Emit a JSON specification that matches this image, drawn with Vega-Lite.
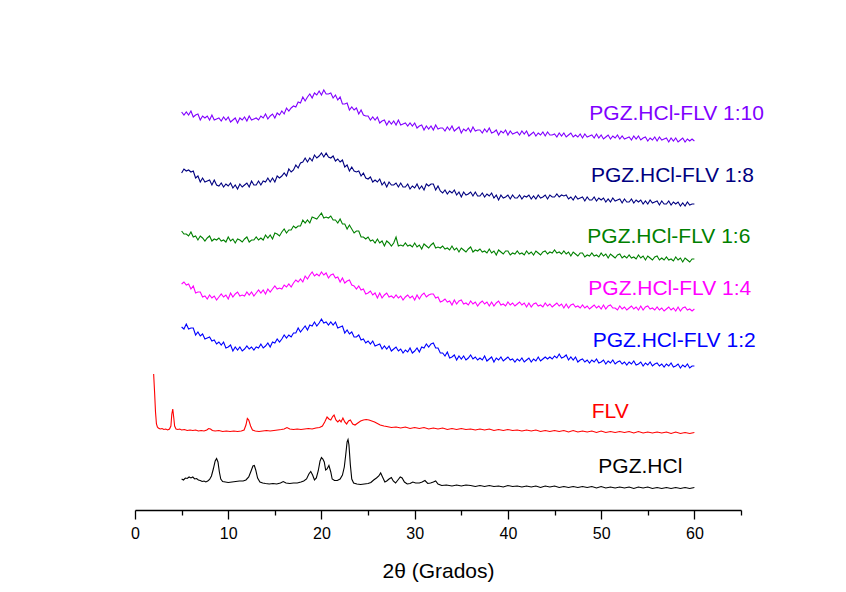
{
"$schema":"https://vega.github.io/schema/vega-lite/v6.json",
"width":606,"height":430,
"autosize":{"type":"none"},
"padding":{"left":135,"top":80,"right":105,"bottom":82},
"background":"white",
"config":{"view":{"stroke":null}},
"datasets":{
"amorph":[
{"x":5,"r10":405,"r8":344,"r6":286,"r4":233,"r2":190},
{"x":5.25,"r10":402,"r8":348,"r6":283,"r4":235,"r2":188},
{"x":5.5,"r10":405,"r8":346,"r6":283,"r4":232,"r2":193},
{"x":5.75,"r10":402,"r8":347,"r6":281,"r4":233,"r2":188},
{"x":6,"r10":406,"r8":345,"r6":285,"r4":228,"r2":189},
{"x":6.25,"r10":400,"r8":346,"r6":280,"r4":231,"r2":189},
{"x":6.5,"r10":402,"r8":339,"r6":281,"r4":224,"r2":182},
{"x":6.75,"r10":403,"r8":341,"r6":277,"r4":225,"r2":185},
{"x":7,"r10":397,"r8":335,"r6":281,"r4":225,"r2":181},
{"x":7.25,"r10":401,"r8":339,"r6":279,"r4":220,"r2":183},
{"x":7.5,"r10":399,"r8":335,"r6":276,"r4":221,"r2":178},
{"x":7.75,"r10":401,"r8":336,"r6":279,"r4":218,"r2":179},
{"x":8,"r10":397,"r8":337,"r6":281,"r4":222,"r2":180},
{"x":8.25,"r10":402,"r8":332,"r6":276,"r4":219,"r2":176},
{"x":8.5,"r10":397,"r8":337,"r6":278,"r4":221,"r2":177},
{"x":8.75,"r10":398,"r8":332,"r6":277,"r4":217,"r2":173},
{"x":9,"r10":399,"r8":331,"r6":279,"r4":220,"r2":175},
{"x":9.25,"r10":396,"r8":334,"r6":276,"r4":223,"r2":172},
{"x":9.5,"r10":400,"r8":330,"r6":277,"r4":220,"r2":175},
{"x":9.75,"r10":397,"r8":333,"r6":275,"r4":222,"r2":169},
{"x":10,"r10":400,"r8":331,"r6":280,"r4":218,"r2":170},
{"x":10.25,"r10":395,"r8":334,"r6":276,"r4":224,"r2":172},
{"x":10.5,"r10":397,"r8":329,"r6":278,"r4":220,"r2":166},
{"x":10.75,"r10":399,"r8":332,"r6":274,"r4":223,"r2":170},
{"x":11,"r10":394,"r8":328,"r6":278,"r4":225,"r2":167},
{"x":11.25,"r10":399,"r8":333,"r6":277,"r4":221,"r2":170},
{"x":11.5,"r10":397,"r8":330,"r6":275,"r4":222,"r2":166},
{"x":11.75,"r10":400,"r8":332,"r6":278,"r4":221,"r2":168},
{"x":12,"r10":396,"r8":334,"r6":280,"r4":225,"r2":171},
{"x":12.25,"r10":401,"r8":330,"r6":275,"r4":222,"r2":168},
{"x":12.5,"r10":397,"r8":336,"r6":277,"r4":225,"r2":170},
{"x":12.75,"r10":398,"r8":332,"r6":277,"r4":221,"r2":167},
{"x":13,"r10":399,"r8":332,"r6":280,"r4":224,"r2":170},
{"x":13.25,"r10":397,"r8":336,"r6":277,"r4":227,"r2":169},
{"x":13.5,"r10":401,"r8":332,"r6":279,"r4":224,"r2":173},
{"x":13.75,"r10":399,"r8":336,"r6":277,"r4":227,"r2":169},
{"x":14,"r10":403,"r8":335,"r6":282,"r4":223,"r2":171},
{"x":14.25,"r10":398,"r8":339,"r6":279,"r4":228,"r2":174},
{"x":14.5,"r10":401,"r8":335,"r6":282,"r4":225,"r2":170},
{"x":14.75,"r10":403,"r8":339,"r6":278,"r4":228,"r2":175},
{"x":15,"r10":399,"r8":335,"r6":284,"r4":231,"r2":174},
{"x":15.25,"r10":404,"r8":341,"r6":283,"r4":228,"r2":178},
{"x":15.5,"r10":402,"r8":339,"r6":281,"r4":229,"r2":175},
{"x":15.75,"r10":406,"r8":341,"r6":285,"r4":228,"r2":178},
{"x":16,"r10":403,"r8":344,"r6":288,"r4":232,"r2":182},
{"x":16.25,"r10":409,"r8":341,"r6":284,"r4":230,"r2":179},
{"x":16.5,"r10":406,"r8":348,"r6":287,"r4":233,"r2":182},
{"x":16.75,"r10":409,"r8":345,"r6":287,"r4":230,"r2":180},
{"x":17,"r10":411,"r8":347,"r6":291,"r4":234,"r2":184},
{"x":17.25,"r10":410,"r8":352,"r6":289,"r4":237,"r2":184},
{"x":17.5,"r10":415,"r8":349,"r6":291,"r4":235,"r2":189},
{"x":17.75,"r10":414,"r8":354,"r6":291,"r4":238,"r2":185},
{"x":18,"r10":420,"r8":355,"r6":297,"r4":235,"r2":188},
{"x":18.25,"r10":416,"r8":359,"r6":294,"r4":241,"r2":191},
{"x":18.5,"r10":420,"r8":355,"r6":297,"r4":238,"r2":187},
{"x":18.75,"r10":423,"r8":359,"r6":294,"r4":242,"r2":192},
{"x":19,"r10":419,"r8":356,"r6":300,"r4":245,"r2":191},
{"x":19.25,"r10":424,"r8":362,"r6":299,"r4":241,"r2":195},
{"x":19.5,"r10":422,"r8":359,"r6":298,"r4":243,"r2":191},
{"x":19.75,"r10":426,"r8":361,"r6":301,"r4":241,"r2":194},
{"x":20,"r10":422,"r8":364,"r6":304,"r4":245,"r2":198},
{"x":20.25,"r10":427,"r8":360,"r6":299,"r4":242,"r2":194},
{"x":20.5,"r10":423,"r8":364,"r6":300,"r4":244,"r2":195},
{"x":20.75,"r10":423,"r8":360,"r6":299,"r4":239,"r2":192},
{"x":21,"r10":424,"r8":359,"r6":301,"r4":242,"r2":195},
{"x":21.25,"r10":419,"r8":361,"r6":297,"r4":243,"r2":192},
{"x":21.5,"r10":422,"r8":356,"r6":297,"r4":239,"r2":195},
{"x":21.75,"r10":417,"r8":358,"r6":294,"r4":240,"r2":189},
{"x":22,"r10":420,"r8":355,"r6":298,"r4":235,"r2":190},
{"x":22.25,"r10":413,"r8":357,"r6":293,"r4":239,"r2":191},
{"x":22.5,"r10":413,"r8":350,"r6":293,"r4":234,"r2":184},
{"x":22.75,"r10":414,"r8":352,"r6":288,"r4":236,"r2":187},
{"x":23,"r10":407,"r8":346,"r6":292,"r4":237,"r2":183},
{"x":23.25,"r10":410,"r8":350,"r6":288,"r4":232,"r2":185},
{"x":23.5,"r10":407,"r8":346,"r6":284,"r4":231,"r2":180},
{"x":23.75,"r10":409,"r8":345,"r6":286,"r4":228,"r2":180},
{"x":24,"r10":403,"r8":346,"r6":286,"r4":231,"r2":182},
{"x":24.25,"r10":407,"r8":341,"r6":280,"r4":227,"r2":177},
{"x":24.5,"r10":402,"r8":344,"r6":280,"r4":228,"r2":178},
{"x":24.75,"r10":401,"r8":339,"r6":278,"r4":223,"r2":174},
{"x":25,"r10":401,"r8":338,"r6":280,"r4":224,"r2":176},
{"x":25.25,"r10":397,"r8":340,"r6":276,"r4":226,"r2":173},
{"x":25.5,"r10":400,"r8":335,"r6":277,"r4":222,"r2":176},
{"x":25.75,"r10":397,"r8":337,"r6":274,"r4":224,"r2":171},
{"x":26,"r10":400,"r8":335,"r6":278,"r4":219,"r2":172},
{"x":26.25,"r10":394,"r8":338,"r6":274,"r4":224,"r2":173},
{"x":26.5,"r10":396,"r8":332,"r6":276,"r4":219,"r2":168},
{"x":26.75,"r10":397,"r8":335,"r6":271,"r4":222,"r2":171},
{"x":27,"r10":392,"r8":330,"r6":276,"r4":224,"r2":168},
{"x":27.25,"r10":396,"r8":335,"r6":274,"r4":220,"r2":171},
{"x":27.5,"r10":393,"r8":332,"r6":271,"r4":221,"r2":166},
{"x":27.75,"r10":396,"r8":332,"r6":274,"r4":219,"r2":168},
{"x":28,"r10":392,"r8":334,"r6":280,"r4":222,"r2":170},
{"x":28.25,"r10":397,"r8":330,"r6":271,"r4":219,"r2":166},
{"x":28.5,"r10":392,"r8":334,"r6":272,"r4":221,"r2":168},
{"x":28.75,"r10":393,"r8":330,"r6":271,"r4":217,"r2":164},
{"x":29,"r10":394,"r8":330,"r6":274,"r4":220,"r2":167},
{"x":29.25,"r10":391,"r8":333,"r6":271,"r4":222,"r2":165},
{"x":29.5,"r10":394,"r8":328,"r6":272,"r4":219,"r2":169},
{"x":29.75,"r10":391,"r8":331,"r6":270,"r4":221,"r2":164},
{"x":30,"r10":394,"r8":329,"r6":274,"r4":217,"r2":166},
{"x":30.25,"r10":389,"r8":333,"r6":270,"r4":222,"r2":169},
{"x":30.5,"r10":391,"r8":328,"r6":272,"r4":218,"r2":165},
{"x":30.75,"r10":392,"r8":331,"r6":268,"r4":222,"r2":170},
{"x":31,"r10":387,"r8":327,"r6":273,"r4":224,"r2":169},
{"x":31.25,"r10":391,"r8":333,"r6":271,"r4":220,"r2":173},
{"x":31.5,"r10":388,"r8":331,"r6":269,"r4":222,"r2":170},
{"x":31.75,"r10":391,"r8":333,"r6":272,"r4":223,"r2":173},
{"x":32,"r10":387,"r8":333,"r6":274,"r4":223,"r2":174},
{"x":32.25,"r10":392,"r8":327,"r6":269,"r4":219,"r2":169},
{"x":32.5,"r10":388,"r8":331,"r6":270,"r4":220,"r2":169},
{"x":32.75,"r10":389,"r8":326,"r6":269,"r4":215,"r2":164},
{"x":33,"r10":389,"r8":324,"r6":271,"r4":216,"r2":164},
{"x":33.25,"r10":386,"r8":327,"r6":268,"r4":218,"r2":161},
{"x":33.5,"r10":390,"r8":323,"r6":269,"r4":215,"r2":165},
{"x":33.75,"r10":387,"r8":326,"r6":267,"r4":216,"r2":159},
{"x":34,"r10":391,"r8":324,"r6":271,"r4":212,"r2":160},
{"x":34.25,"r10":386,"r8":327,"r6":267,"r4":217,"r2":162},
{"x":34.5,"r10":388,"r8":322,"r6":269,"r4":213,"r2":157},
{"x":34.75,"r10":390,"r8":325,"r6":265,"r4":216,"r2":161},
{"x":35,"r10":384,"r8":320,"r6":269,"r4":217,"r2":158},
{"x":35.25,"r10":388,"r8":325,"r6":267,"r4":213,"r2":161},
{"x":35.5,"r10":386,"r8":322,"r6":265,"r4":214,"r2":157},
{"x":35.75,"r10":389,"r8":323,"r6":268,"r4":212,"r2":159},
{"x":36,"r10":385,"r8":325,"r6":270,"r4":216,"r2":162},
{"x":36.25,"r10":390,"r8":321,"r6":265,"r4":213,"r2":158},
{"x":36.5,"r10":386,"r8":325,"r6":267,"r4":215,"r2":160},
{"x":36.75,"r10":387,"r8":321,"r6":266,"r4":211,"r2":157},
{"x":37,"r10":387,"r8":321,"r6":268,"r4":214,"r2":159},
{"x":37.25,"r10":384,"r8":324,"r6":265,"r4":216,"r2":157},
{"x":37.5,"r10":388,"r8":320,"r6":266,"r4":213,"r2":161},
{"x":37.75,"r10":385,"r8":323,"r6":264,"r4":215,"r2":156},
{"x":38,"r10":389,"r8":321,"r6":268,"r4":211,"r2":158},
{"x":38.25,"r10":384,"r8":324,"r6":264,"r4":215,"r2":160},
{"x":38.5,"r10":385,"r8":319,"r6":266,"r4":211,"r2":155},
{"x":38.75,"r10":387,"r8":322,"r6":262,"r4":214,"r2":159},
{"x":39,"r10":382,"r8":317,"r6":267,"r4":216,"r2":157},
{"x":39.25,"r10":386,"r8":322,"r6":265,"r4":212,"r2":160},
{"x":39.5,"r10":384,"r8":319,"r6":263,"r4":213,"r2":156},
{"x":39.75,"r10":387,"r8":320,"r6":266,"r4":211,"r2":158},
{"x":40,"r10":382,"r8":322,"r6":266,"r4":215,"r2":160},
{"x":40.25,"r10":386,"r8":318,"r6":262,"r4":212,"r2":157},
{"x":40.5,"r10":383,"r8":322,"r6":264,"r4":214,"r2":158},
{"x":40.75,"r10":384,"r8":319,"r6":263,"r4":211,"r2":155},
{"x":41,"r10":385,"r8":319,"r6":266,"r4":213,"r2":158},
{"x":41.25,"r10":382,"r8":322,"r6":263,"r4":215,"r2":156},
{"x":41.5,"r10":386,"r8":318,"r6":264,"r4":212,"r2":159},
{"x":41.75,"r10":383,"r8":321,"r6":262,"r4":214,"r2":155},
{"x":42,"r10":386,"r8":320,"r6":266,"r4":210,"r2":157},
{"x":42.25,"r10":381,"r8":322,"r6":263,"r4":214,"r2":159},
{"x":42.5,"r10":383,"r8":318,"r6":265,"r4":210,"r2":155},
{"x":42.75,"r10":385,"r8":321,"r6":262,"r4":213,"r2":158},
{"x":43,"r10":381,"r8":318,"r6":266,"r4":214,"r2":156},
{"x":43.25,"r10":384,"r8":322,"r6":264,"r4":211,"r2":160},
{"x":43.5,"r10":382,"r8":319,"r6":262,"r4":212,"r2":156},
{"x":43.75,"r10":385,"r8":320,"r6":265,"r4":210,"r2":158},
{"x":44,"r10":381,"r8":322,"r6":266,"r4":214,"r2":160},
{"x":44.25,"r10":385,"r8":318,"r6":263,"r4":211,"r2":158},
{"x":44.5,"r10":382,"r8":322,"r6":265,"r4":213,"r2":160},
{"x":44.75,"r10":382,"r8":320,"r6":264,"r4":210,"r2":158},
{"x":45,"r10":383,"r8":320,"r6":267,"r4":212,"r2":161},
{"x":45.25,"r10":380,"r8":323,"r6":264,"r4":214,"r2":159},
{"x":45.5,"r10":384,"r8":320,"r6":265,"r4":211,"r2":163},
{"x":45.75,"r10":381,"r8":322,"r6":263,"r4":213,"r2":159},
{"x":46,"r10":384,"r8":321,"r6":266,"r4":209,"r2":160},
{"x":46.25,"r10":380,"r8":322,"r6":263,"r4":213,"r2":162},
{"x":46.5,"r10":382,"r8":318,"r6":265,"r4":209,"r2":157},
{"x":46.75,"r10":384,"r8":320,"r6":261,"r4":212,"r2":160},
{"x":47,"r10":380,"r8":317,"r6":265,"r4":213,"r2":157},
{"x":47.25,"r10":382,"r8":321,"r6":263,"r4":210,"r2":160},
{"x":47.5,"r10":380,"r8":318,"r6":261,"r4":211,"r2":155},
{"x":47.75,"r10":383,"r8":319,"r6":264,"r4":209,"r2":157},
{"x":48,"r10":379,"r8":320,"r6":264,"r4":212,"r2":158},
{"x":48.25,"r10":383,"r8":316,"r6":260,"r4":209,"r2":155},
{"x":48.5,"r10":380,"r8":320,"r6":262,"r4":211,"r2":157},
{"x":48.75,"r10":381,"r8":317,"r6":261,"r4":208,"r2":154},
{"x":49,"r10":382,"r8":317,"r6":264,"r4":210,"r2":157},
{"x":49.25,"r10":379,"r8":320,"r6":261,"r4":212,"r2":155},
{"x":49.5,"r10":383,"r8":316,"r6":262,"r4":209,"r2":158},
{"x":49.75,"r10":379,"r8":319,"r6":260,"r4":211,"r2":154},
{"x":50,"r10":382,"r8":317,"r6":264,"r4":208,"r2":155},
{"x":50.25,"r10":378,"r8":319,"r6":261,"r4":212,"r2":157},
{"x":50.5,"r10":380,"r8":315,"r6":263,"r4":208,"r2":153},
{"x":50.75,"r10":382,"r8":318,"r6":259,"r4":211,"r2":156},
{"x":51,"r10":378,"r8":315,"r6":263,"r4":212,"r2":154},
{"x":51.25,"r10":381,"r8":319,"r6":261,"r4":209,"r2":157},
{"x":51.5,"r10":379,"r8":316,"r6":259,"r4":209,"r2":153},
{"x":51.75,"r10":382,"r8":317,"r6":262,"r4":207,"r2":155},
{"x":52,"r10":378,"r8":318,"r6":263,"r4":211,"r2":156},
{"x":52.25,"r10":381,"r8":314,"r6":259,"r4":208,"r2":153},
{"x":52.5,"r10":378,"r8":318,"r6":261,"r4":210,"r2":155},
{"x":52.75,"r10":379,"r8":315,"r6":259,"r4":207,"r2":152},
{"x":53,"r10":380,"r8":315,"r6":262,"r4":209,"r2":155},
{"x":53.25,"r10":377,"r8":318,"r6":259,"r4":211,"r2":153},
{"x":53.5,"r10":381,"r8":314,"r6":260,"r4":208,"r2":156},
{"x":53.75,"r10":378,"r8":317,"r6":258,"r4":210,"r2":152},
{"x":54,"r10":381,"r8":315,"r6":262,"r4":207,"r2":153},
{"x":54.25,"r10":377,"r8":317,"r6":259,"r4":211,"r2":155},
{"x":54.5,"r10":379,"r8":313,"r6":261,"r4":207,"r2":151},
{"x":54.75,"r10":380,"r8":316,"r6":257,"r4":210,"r2":154},
{"x":55,"r10":376,"r8":313,"r6":261,"r4":211,"r2":152},
{"x":55.25,"r10":379,"r8":317,"r6":259,"r4":208,"r2":155},
{"x":55.5,"r10":377,"r8":314,"r6":257,"r4":209,"r2":151},
{"x":55.75,"r10":380,"r8":315,"r6":260,"r4":207,"r2":153},
{"x":56,"r10":376,"r8":316,"r6":261,"r4":210,"r2":154},
{"x":56.25,"r10":380,"r8":312,"r6":257,"r4":207,"r2":151},
{"x":56.5,"r10":377,"r8":316,"r6":259,"r4":209,"r2":153},
{"x":56.75,"r10":378,"r8":313,"r6":257,"r4":206,"r2":150},
{"x":57,"r10":379,"r8":313,"r6":260,"r4":208,"r2":153},
{"x":57.25,"r10":375,"r8":316,"r6":257,"r4":210,"r2":151},
{"x":57.5,"r10":379,"r8":312,"r6":258,"r4":207,"r2":154},
{"x":57.75,"r10":376,"r8":315,"r6":256,"r4":209,"r2":150},
{"x":58,"r10":379,"r8":313,"r6":260,"r4":206,"r2":151},
{"x":58.25,"r10":375,"r8":315,"r6":257,"r4":210,"r2":153},
{"x":58.5,"r10":377,"r8":311,"r6":259,"r4":206,"r2":149},
{"x":58.75,"r10":379,"r8":314,"r6":255,"r4":209,"r2":152},
{"x":59,"r10":375,"r8":311,"r6":259,"r4":210,"r2":150},
{"x":59.25,"r10":378,"r8":315,"r6":257,"r4":207,"r2":153},
{"x":59.5,"r10":376,"r8":312,"r6":255,"r4":208,"r2":149},
{"x":59.75,"r10":378,"r8":313,"r6":258,"r4":206,"r2":151},
{"x":60,"r10":376,"r8":313,"r6":258,"r4":208,"r2":151}
],
"cryst":[
{"s":"flv","x":2.0,"y":143},{"s":"flv","x":2.1,"y":125},{"s":"flv","x":2.2,"y":105},{"s":"flv","x":2.3,"y":93},{"s":"flv","x":2.4,"y":90},{"s":"flv","x":2.5,"y":89},{"s":"flv","x":2.7,"y":88},{"s":"flv","x":2.9,"y":88.5},{"s":"flv","x":3.1,"y":87.5},{"s":"flv","x":3.3,"y":88},{"s":"flv","x":3.5,"y":87},{"s":"flv","x":3.7,"y":88},{"s":"flv","x":3.85,"y":91},{"s":"flv","x":3.95,"y":103},{"s":"flv","x":4.05,"y":108},{"s":"flv","x":4.15,"y":100},{"s":"flv","x":4.25,"y":91},{"s":"flv","x":4.4,"y":88},{"s":"flv","x":4.6,"y":87.5},{"s":"flv","x":4.8,"y":88},{"s":"flv","x":5.0,"y":87},{"s":"flv","x":5.3,"y":87.5},{"s":"flv","x":5.6,"y":86.5},{"s":"flv","x":5.9,"y":87},{"s":"flv","x":6.2,"y":86.5},{"s":"flv","x":6.5,"y":87},{"s":"flv","x":6.8,"y":86},{"s":"flv","x":7.1,"y":86.5},{"s":"flv","x":7.4,"y":86},{"s":"flv","x":7.7,"y":87},{"s":"flv","x":7.9,"y":88.5},{"s":"flv","x":8.1,"y":88},{"s":"flv","x":8.3,"y":86.5},{"s":"flv","x":8.6,"y":86},{"s":"flv","x":9.0,"y":86.5},{"s":"flv","x":9.4,"y":85.5},{"s":"flv","x":9.8,"y":86},{"s":"flv","x":10.2,"y":85.5},{"s":"flv","x":10.6,"y":86},{"s":"flv","x":11.0,"y":85.5},{"s":"flv","x":11.4,"y":86},{"s":"flv","x":11.7,"y":87},{"s":"flv","x":11.9,"y":92},{"s":"flv","x":12.05,"y":98.5},{"s":"flv","x":12.2,"y":97},{"s":"flv","x":12.4,"y":91},{"s":"flv","x":12.6,"y":87},{"s":"flv","x":12.9,"y":86},{"s":"flv","x":13.3,"y":85.5},{"s":"flv","x":13.7,"y":86},{"s":"flv","x":14.1,"y":86.5},{"s":"flv","x":14.5,"y":86},{"s":"flv","x":14.9,"y":86.5},{"s":"flv","x":15.3,"y":87},{"s":"flv","x":15.7,"y":87.5},{"s":"flv","x":16.0,"y":88},{"s":"flv","x":16.3,"y":89.5},{"s":"flv","x":16.6,"y":88},{"s":"flv","x":17.0,"y":87.5},{"s":"flv","x":17.4,"y":88},{"s":"flv","x":17.8,"y":87.5},{"s":"flv","x":18.2,"y":88},{"s":"flv","x":18.6,"y":88.5},{"s":"flv","x":19.0,"y":88},{"s":"flv","x":19.4,"y":89},{"s":"flv","x":19.8,"y":89.5},{"s":"flv","x":20.1,"y":91},{"s":"flv","x":20.35,"y":95},{"s":"flv","x":20.6,"y":100},{"s":"flv","x":20.8,"y":98},{"s":"flv","x":21.0,"y":97},{"s":"flv","x":21.2,"y":100.5},{"s":"flv","x":21.35,"y":102},{"s":"flv","x":21.55,"y":97},{"s":"flv","x":21.75,"y":95},{"s":"flv","x":21.95,"y":97},{"s":"flv","x":22.1,"y":95},{"s":"flv","x":22.3,"y":99},{"s":"flv","x":22.5,"y":95},{"s":"flv","x":22.7,"y":93},{"s":"flv","x":22.9,"y":96},{"s":"flv","x":23.1,"y":97},{"s":"flv","x":23.35,"y":93},{"s":"flv","x":23.6,"y":92},{"s":"flv","x":23.9,"y":94},{"s":"flv","x":24.2,"y":96},{"s":"flv","x":24.5,"y":97},{"s":"flv","x":24.8,"y":97.5},{"s":"flv","x":25.1,"y":97},{"s":"flv","x":25.4,"y":96},{"s":"flv","x":25.7,"y":95},{"s":"flv","x":26.0,"y":93.5},{"s":"flv","x":26.3,"y":92},{"s":"flv","x":26.7,"y":91},
{"s":"flv","x":27.0,"y":90.5},{"s":"flv","x":27.5,"y":89.5},{"s":"flv","x":28.0,"y":90},{"s":"flv","x":28.5,"y":89},{"s":"flv","x":29.0,"y":90},{"s":"flv","x":29.5,"y":88.5},{"s":"flv","x":30.0,"y":89.5},{"s":"flv","x":30.5,"y":88.5},{"s":"flv","x":31.0,"y":89.5},{"s":"flv","x":31.5,"y":88},{"s":"flv","x":32.0,"y":89},{"s":"flv","x":32.5,"y":88},{"s":"flv","x":33.0,"y":89},{"s":"flv","x":33.5,"y":87.5},{"s":"flv","x":34.0,"y":88.5},{"s":"flv","x":34.5,"y":87.5},{"s":"flv","x":35.0,"y":88.5},{"s":"flv","x":35.5,"y":87.5},{"s":"flv","x":36.0,"y":88},{"s":"flv","x":36.5,"y":87},{"s":"flv","x":37.0,"y":88},{"s":"flv","x":37.5,"y":87},{"s":"flv","x":38.0,"y":88},{"s":"flv","x":38.5,"y":86.5},{"s":"flv","x":39.0,"y":87.5},{"s":"flv","x":39.5,"y":86.5},{"s":"flv","x":40.0,"y":87.5},{"s":"flv","x":40.5,"y":86.5},{"s":"flv","x":41.0,"y":87},{"s":"flv","x":41.5,"y":86},{"s":"flv","x":42.0,"y":87},{"s":"flv","x":42.5,"y":86},{"s":"flv","x":43.0,"y":87},{"s":"flv","x":43.5,"y":85.5},{"s":"flv","x":44.0,"y":86.5},{"s":"flv","x":44.5,"y":85.5},{"s":"flv","x":45.0,"y":86.5},{"s":"flv","x":45.5,"y":85.5},{"s":"flv","x":46.0,"y":86.5},{"s":"flv","x":46.5,"y":85},{"s":"flv","x":47.0,"y":86.5},{"s":"flv","x":47.5,"y":85},{"s":"flv","x":48.0,"y":86},{"s":"flv","x":48.5,"y":85},{"s":"flv","x":49.0,"y":86},{"s":"flv","x":49.5,"y":84.5},{"s":"flv","x":50.0,"y":86},{"s":"flv","x":50.5,"y":84.5},{"s":"flv","x":51.0,"y":85.5},{"s":"flv","x":51.5,"y":84.5},{"s":"flv","x":52.0,"y":85.5},{"s":"flv","x":52.5,"y":84.5},{"s":"flv","x":53.0,"y":85.5},{"s":"flv","x":53.5,"y":84},{"s":"flv","x":54.0,"y":85.5},{"s":"flv","x":54.5,"y":84},{"s":"flv","x":55.0,"y":85},{"s":"flv","x":55.5,"y":84},{"s":"flv","x":56.0,"y":85},{"s":"flv","x":56.5,"y":84},{"s":"flv","x":57.0,"y":85},{"s":"flv","x":57.5,"y":83.5},{"s":"flv","x":58.0,"y":85},{"s":"flv","x":58.5,"y":83.5},{"s":"flv","x":59.0,"y":84.5},{"s":"flv","x":59.5,"y":83.5},{"s":"flv","x":60.0,"y":84.5},
{"s":"pgz","x":5.0,"y":38},{"s":"pgz","x":5.2,"y":37},{"s":"pgz","x":5.4,"y":39},{"s":"pgz","x":5.6,"y":38.5},{"s":"pgz","x":5.8,"y":40},{"s":"pgz","x":6.0,"y":39},{"s":"pgz","x":6.2,"y":40},{"s":"pgz","x":6.4,"y":38},{"s":"pgz","x":6.6,"y":38.5},{"s":"pgz","x":6.8,"y":37},{"s":"pgz","x":7.0,"y":36.5},{"s":"pgz","x":7.2,"y":35.5},{"s":"pgz","x":7.4,"y":36},{"s":"pgz","x":7.6,"y":35},{"s":"pgz","x":7.8,"y":36},{"s":"pgz","x":8.0,"y":37.5},{"s":"pgz","x":8.2,"y":41},{"s":"pgz","x":8.4,"y":48},{"s":"pgz","x":8.6,"y":56},{"s":"pgz","x":8.75,"y":58.5},{"s":"pgz","x":8.9,"y":55},{"s":"pgz","x":9.05,"y":45},{"s":"pgz","x":9.2,"y":38},{"s":"pgz","x":9.4,"y":35.5},{"s":"pgz","x":9.7,"y":35},{"s":"pgz","x":10.0,"y":34.5},{"s":"pgz","x":10.4,"y":35},{"s":"pgz","x":10.8,"y":35.5},{"s":"pgz","x":11.2,"y":36},{"s":"pgz","x":11.6,"y":36},{"s":"pgz","x":11.9,"y":37},{"s":"pgz","x":12.2,"y":40},{"s":"pgz","x":12.45,"y":46},{"s":"pgz","x":12.65,"y":51},{"s":"pgz","x":12.8,"y":51.5},{"s":"pgz","x":12.95,"y":47},{"s":"pgz","x":13.15,"y":39},{"s":"pgz","x":13.4,"y":35},{"s":"pgz","x":13.7,"y":34},{"s":"pgz","x":14.0,"y":33.5},{"s":"pgz","x":14.4,"y":33},{"s":"pgz","x":14.8,"y":33.5},{"s":"pgz","x":15.2,"y":33},{"s":"pgz","x":15.6,"y":34},{"s":"pgz","x":15.9,"y":35.5},{"s":"pgz","x":16.2,"y":34},{"s":"pgz","x":16.6,"y":33.5},{"s":"pgz","x":17.0,"y":34},{"s":"pgz","x":17.4,"y":34},{"s":"pgz","x":17.8,"y":35},{"s":"pgz","x":18.1,"y":36},{"s":"pgz","x":18.4,"y":38},{"s":"pgz","x":18.65,"y":43},{"s":"pgz","x":18.85,"y":45.5},{"s":"pgz","x":19.05,"y":42},{"s":"pgz","x":19.25,"y":37},{"s":"pgz","x":19.45,"y":39},{"s":"pgz","x":19.65,"y":46},{"s":"pgz","x":19.85,"y":56},{"s":"pgz","x":20.0,"y":59.5},{"s":"pgz","x":20.15,"y":58},{"s":"pgz","x":20.3,"y":55},{"s":"pgz","x":20.45,"y":47},{"s":"pgz","x":20.6,"y":48},{"s":"pgz","x":20.8,"y":51.5},{"s":"pgz","x":21.0,"y":45},{"s":"pgz","x":21.15,"y":38},{"s":"pgz","x":21.4,"y":36.5},{"s":"pgz","x":21.7,"y":36.5},{"s":"pgz","x":22.0,"y":38},{"s":"pgz","x":22.25,"y":42},{"s":"pgz","x":22.45,"y":50},{"s":"pgz","x":22.6,"y":62},{"s":"pgz","x":22.75,"y":75},{"s":"pgz","x":22.85,"y":77.5},{"s":"pgz","x":22.95,"y":72},{"s":"pgz","x":23.1,"y":52},{"s":"pgz","x":23.25,"y":38},{"s":"pgz","x":23.45,"y":34},{"s":"pgz","x":23.8,"y":33},{"s":"pgz","x":24.2,"y":32.5},{"s":"pgz","x":24.6,"y":33},{"s":"pgz","x":25.0,"y":33.5},{"s":"pgz","x":25.3,"y":34.5},{"s":"pgz","x":25.6,"y":37},{"s":"pgz","x":25.9,"y":39},{"s":"pgz","x":26.15,"y":41},{"s":"pgz","x":26.35,"y":44},{"s":"pgz","x":26.55,"y":40},{"s":"pgz","x":26.8,"y":35},{"s":"pgz","x":27.0,"y":36},{"s":"pgz","x":27.25,"y":38},{"s":"pgz","x":27.5,"y":39.5},{"s":"pgz","x":27.7,"y":36},{"s":"pgz","x":27.95,"y":34},{"s":"pgz","x":28.2,"y":37},{"s":"pgz","x":28.45,"y":40},{"s":"pgz","x":28.65,"y":39},{"s":"pgz","x":28.9,"y":35},{"s":"pgz","x":29.2,"y":33},{"s":"pgz","x":29.5,"y":33.5},{"s":"pgz","x":29.8,"y":35},{"s":"pgz","x":30.1,"y":34},{"s":"pgz","x":30.5,"y":34},{"s":"pgz","x":30.8,"y":35},{"s":"pgz","x":31.1,"y":36.5},{"s":"pgz","x":31.4,"y":33.5},{"s":"pgz","x":31.7,"y":34},{"s":"pgz","x":32.0,"y":35},{"s":"pgz","x":32.25,"y":36},{"s":"pgz","x":32.5,"y":33},{"s":"pgz","x":32.9,"y":31.5},{"s":"pgz","x":33.4,"y":32},{"s":"pgz","x":34.0,"y":31},{"s":"pgz","x":34.5,"y":32},{"s":"pgz","x":35.0,"y":31},{"s":"pgz","x":35.5,"y":32},{"s":"pgz","x":36.0,"y":31.5},{"s":"pgz","x":36.5,"y":30.5},{"s":"pgz","x":37.0,"y":31.5},{"s":"pgz","x":37.5,"y":30.5},{"s":"pgz","x":38.0,"y":31.5},{"s":"pgz","x":38.5,"y":30.5},{"s":"pgz","x":39.0,"y":31},{"s":"pgz","x":39.5,"y":30},{"s":"pgz","x":40.0,"y":31.5},{"s":"pgz","x":40.5,"y":30.5},{"s":"pgz","x":41.0,"y":31},{"s":"pgz","x":41.5,"y":30},{"s":"pgz","x":42.0,"y":31},{"s":"pgz","x":42.5,"y":30},{"s":"pgz","x":43.0,"y":31},{"s":"pgz","x":43.5,"y":29.5},{"s":"pgz","x":44.0,"y":31},{"s":"pgz","x":44.5,"y":30},{"s":"pgz","x":45.0,"y":31},{"s":"pgz","x":45.5,"y":29.5},{"s":"pgz","x":46.0,"y":30.5},{"s":"pgz","x":46.5,"y":29.5},{"s":"pgz","x":47.0,"y":30.5},{"s":"pgz","x":47.5,"y":29.5},{"s":"pgz","x":48.0,"y":30.5},{"s":"pgz","x":48.5,"y":29.5},{"s":"pgz","x":49.0,"y":30.5},{"s":"pgz","x":49.5,"y":29},{"s":"pgz","x":50.0,"y":30.5},{"s":"pgz","x":50.5,"y":29},{"s":"pgz","x":51.0,"y":30},{"s":"pgz","x":51.5,"y":29},{"s":"pgz","x":52.0,"y":30},{"s":"pgz","x":52.5,"y":29},{"s":"pgz","x":53.0,"y":30},{"s":"pgz","x":53.5,"y":28.5},{"s":"pgz","x":54.0,"y":30},{"s":"pgz","x":54.5,"y":29},{"s":"pgz","x":55.0,"y":30},{"s":"pgz","x":55.5,"y":28.5},{"s":"pgz","x":56.0,"y":29.5},{"s":"pgz","x":56.5,"y":28.5},{"s":"pgz","x":57.0,"y":29.5},{"s":"pgz","x":57.5,"y":28.5},{"s":"pgz","x":58.0,"y":29.5},{"s":"pgz","x":58.5,"y":28.5},{"s":"pgz","x":59.0,"y":29.5},{"s":"pgz","x":59.5,"y":28.5},{"s":"pgz","x":60.0,"y":29.5}
],
"labels":[
{"s":"r10","x":48.73,"y":397,"t":"PGZ.HCl-FLV 1:10"},
{"s":"r8","x":48.91,"y":335.3,"t":"PGZ.HCl-FLV 1:8"},
{"s":"r6","x":48.52,"y":273.7,"t":"PGZ.HCl-FLV 1:6"},
{"s":"r4","x":48.62,"y":222,"t":"PGZ.HCl-FLV 1:4"},
{"s":"r2","x":49.09,"y":170.3,"t":"PGZ.HCl-FLV 1:2"},
{"s":"flv","x":48.99,"y":98.7,"t":"FLV"},
{"s":"pgz","x":49.7,"y":43.7,"t":"PGZ.HCl"}
]
},
"encoding":{
"x":{"field":"x","type":"quantitative","scale":{"domain":[0,65],"nice":false,"zero":false},
 "axis":{"title":"2θ (Grados)","values":[0,5,10,15,20,25,30,35,40,45,50,55,60,65],
  "labelExpr":"datum.value % 10 === 0 ? datum.label : ''",
  "tickSize":{"condition":{"test":"datum.value % 10 === 0","value":9},"value":5},
  "grid":false,"labelFlush":false,"labelOverlap":false,
  "domainColor":"#000000","domainWidth":1.3,"tickColor":"#000000","tickWidth":1.3,
  "labelColor":"#000000","labelFont":"Liberation Sans","labelFontSize":16,"labelPadding":6,
  "titleFont":"Liberation Sans","titleFontSize":21,"titleFontWeight":"normal","titleColor":"#000000","titlePadding":19}},
"y":{"field":"y","type":"quantitative","scale":{"domain":[7,437],"nice":false,"zero":false},"axis":null},
"color":{"field":"s","type":"nominal","scale":{"domain":["r10","r8","r6","r4","r2","flv","pgz"],"range":["#8000FF","#000080","#008000","#FF00FF","#0000FF","#FF0000","#000000"]},"legend":null}
},
"layer":[
{"data":{"name":"amorph"},"transform":[{"fold":["r10","r8","r6","r4","r2"],"as":["s","y"]}],"mark":{"type":"line","strokeWidth":1.1}},
{"data":{"name":"cryst"},"mark":{"type":"line","strokeWidth":1.1}},
{"data":{"name":"labels"},"mark":{"type":"text","align":"left","baseline":"alphabetic","font":"Liberation Sans","fontSize":21},"encoding":{"text":{"field":"t"}}}
]
}
